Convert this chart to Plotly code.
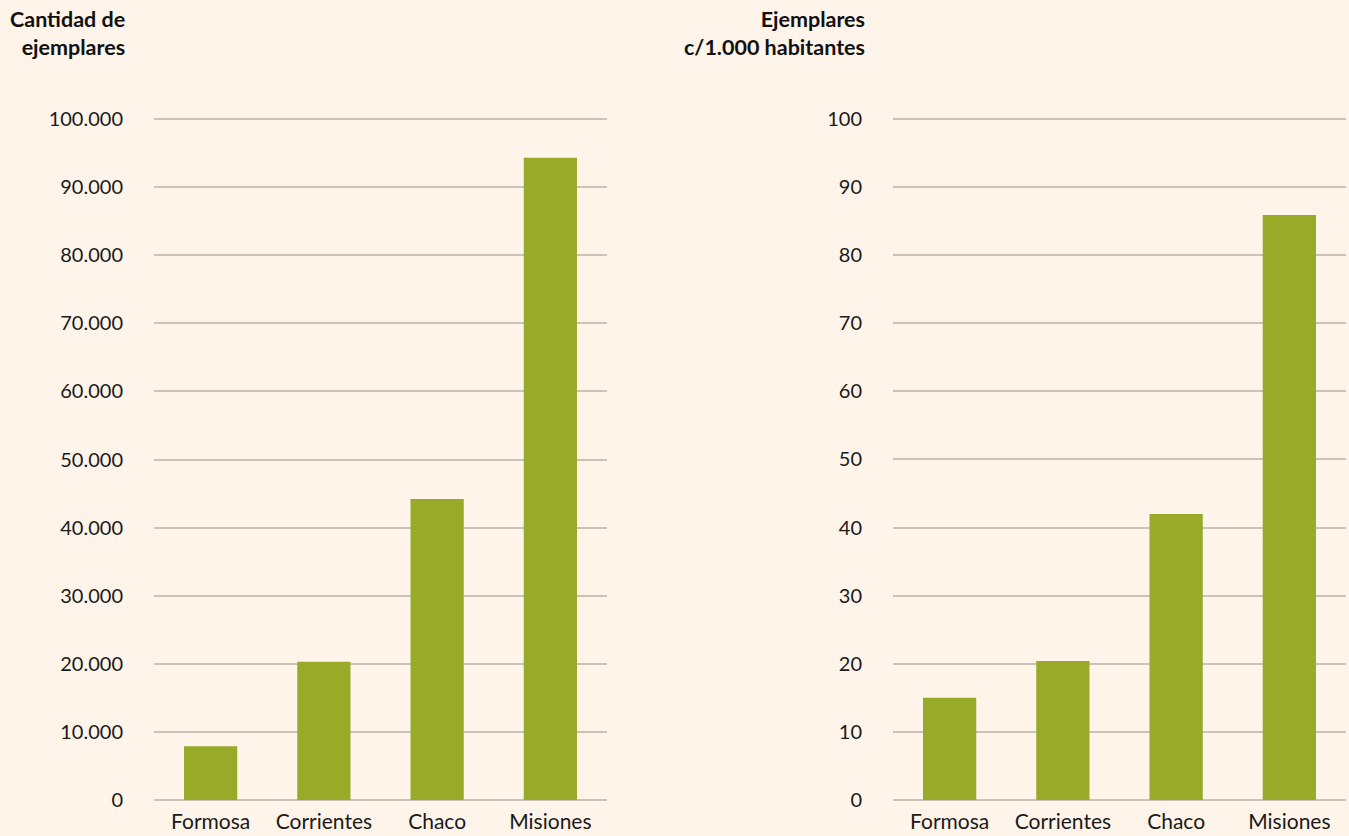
import plotly.graph_objects as go

provincias = ["Formosa", "Corrientes", "Chaco", "Misiones"]
ejemplares = [7900, 20300, 44200, 94300]
por_mil_hab = [15.0, 20.4, 42.0, 85.9]

left_ticks = [0, 10000, 20000, 30000, 40000, 50000, 60000, 70000, 80000, 90000, 100000]
left_ticktext = ["0", "10.000", "20.000", "30.000", "40.000", "50.000",
                 "60.000", "70.000", "80.000", "90.000", "100.000"]
right_ticks = [0, 10, 20, 30, 40, 50, 60, 70, 80, 90, 100]
right_ticktext = [str(v) for v in right_ticks]

title_left = "Cantidad de<br>ejemplares"
title_right = "Ejemplares<br>c/1.000 habitantes"

BG = "#FEF4E9"
BAR = "#99A928"
GRID = "#CBC3BA"
FONT = "Lato"
W, H = 1349, 836

fig = go.Figure()
fig.add_trace(go.Bar(x=provincias, y=ejemplares, marker_color=BAR, width=0.47,
                     xaxis="x", yaxis="y", showlegend=False, hoverinfo="x+y"))
fig.add_trace(go.Bar(x=provincias, y=por_mil_hab, marker_color=BAR, width=0.47,
                     xaxis="x2", yaxis="y2", showlegend=False, hoverinfo="x+y"))

# pixel layout: value 0 at y=800, value 100 (k) at y=119
px_per = (800 - 119) / 100.0
lo, hi = -0.3, 101.5
y_bot = 800 - lo * px_per
y_top = 800 - hi * px_per
ydom = [1 - y_bot / H, 1 - y_top / H]
xd1 = [154 / W, 607 / W]
xd2 = [893 / W, 1346 / W]

xcommon = dict(showgrid=False, zeroline=False, showline=False, ticks="outside",
               ticklen=1, tickcolor="rgba(0,0,0,0)", range=[-0.5, 3.5],
               automargin=False,
               tickfont=dict(family=FONT, size=21, color="#1a1a1a"), fixedrange=True)
ycommon = dict(showgrid=True, gridcolor=GRID, gridwidth=1.5, zeroline=False,
               showline=False, ticks="outside", ticklen=26, tickcolor="rgba(0,0,0,0)",
               automargin=False,
               tickfont=dict(family=FONT, size=20, color="#1a1a1a"), domain=ydom,
               fixedrange=True)

fig.update_layout(
    template="none",
    width=W, height=H,
    paper_bgcolor=BG, plot_bgcolor=BG,
    margin=dict(l=0, r=0, t=0, b=0, pad=0),
    xaxis=dict(domain=xd1, anchor="y", **xcommon),
    xaxis2=dict(domain=xd2, anchor="y2", **xcommon),
    yaxis=dict(anchor="x", range=[lo * 1000, hi * 1000], tickvals=left_ticks,
               ticktext=left_ticktext, **ycommon),
    yaxis2=dict(anchor="x2", range=[lo, hi], tickvals=right_ticks,
                ticktext=right_ticktext, **ycommon),
    annotations=[
        dict(text="<b>" + title_left + "</b>", xref="paper", yref="paper",
             x=127 / W, y=1 - 4 / H, xanchor="right", yanchor="top", align="right",
             showarrow=False, font=dict(family=FONT, size=21.5, color="#111111")),
        dict(text="<b>" + title_right + "</b>", xref="paper", yref="paper",
             x=867 / W, y=1 - 4 / H, xanchor="right", yanchor="top", align="right",
             showarrow=False, font=dict(family=FONT, size=21.5, color="#111111")),
    ],
)

fig.write_html("out.html", config={"displayModeBar": False},
               post_script="document.body.style.margin='0';document.body.style.overflow='hidden';document.body.style.background='" + BG + "';")
